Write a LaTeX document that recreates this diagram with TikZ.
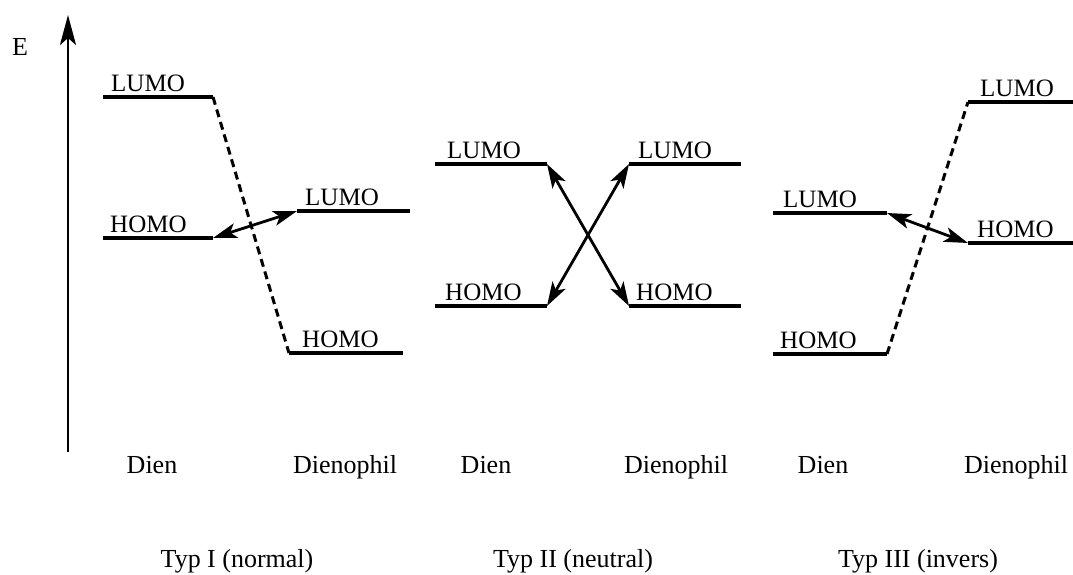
\documentclass[tikz,border=0pt]{standalone}
\usepackage{fontspec}
\setmainfont{Liberation Serif}
\usetikzlibrary{arrows.meta}
\begin{document}
\begin{tikzpicture}[x=1pt,y=-1pt,
  level/.style={line width=3.2pt},
  corr/.style={line width=3pt,dash pattern=on 8pt off 5pt},
  tip/.tip={Stealth[length=24pt,width=15pt,inset=6pt]},
  inter/.style={line width=2.8pt,tip-tip},
  lab/.style={anchor=base west,inner sep=0pt,font=\fontsize{25}{30}\selectfont},
  captext/.style={anchor=base,inner sep=0pt,font=\fontsize{26}{30}\selectfont}]
\useasboundingbox (0,0) rectangle (1073,574);
% energy axis
\coordinate (ax0) at (68,452);
\coordinate (ax1) at (68,15);
\draw[line width=2.9pt,-{Stealth[length=30pt,width=16pt,inset=7pt]}] (ax0) -- (ax1);
\node[captext] (E) at (20,55) {E};
% ---------- Typ I ----------
\coordinate (aL1) at (103,97);  \coordinate (aL2) at (213,97);
\coordinate (aH1) at (103,238); \coordinate (aH2) at (213,238);
\coordinate (bL1) at (297,211); \coordinate (bL2) at (410,211);
\coordinate (bH1) at (289,353); \coordinate (bH2) at (403,353);
\draw[level] (aL1) -- (aL2);
\draw[level] (aH1) -- (aH2);
\draw[level] (bL1) -- (bL2);
\draw[level] (bH1) -- (bH2);
\draw[corr] (aL2) -- (bH1);
\draw[inter] (aH2) -- (bL1);
\node[lab] (taL) at (111,91) {LUMO};
\node[lab] (taH) at (110,232) {HOMO};
\node[lab] (tbL) at (305,205) {LUMO};
\node[lab] (tbH) at (302,347) {HOMO};
% ---------- Typ II ----------
\coordinate (cL1) at (435,164); \coordinate (cL2) at (547,164);
\coordinate (cH1) at (435,306); \coordinate (cH2) at (547,306);
\coordinate (dL1) at (629,164); \coordinate (dL2) at (741,164);
\coordinate (dH1) at (629,306); \coordinate (dH2) at (741,306);
\draw[level] (cL1) -- (cL2);
\draw[level] (cH1) -- (cH2);
\draw[level] (dL1) -- (dL2);
\draw[level] (dH1) -- (dH2);
\draw[inter] (cL2) -- (dH1);
\draw[inter] (cH2) -- (dL1);
\node[lab] (tcL) at (447,158) {LUMO};
\node[lab] (tcH) at (445,300) {HOMO};
\node[lab] (tdL) at (638,158) {LUMO};
\node[lab] (tdH) at (636,300) {HOMO};
% ---------- Typ III ----------
\coordinate (eL1) at (773,213); \coordinate (eL2) at (887,213);
\coordinate (eH1) at (773,354); \coordinate (eH2) at (887,354);
\coordinate (fL1) at (968,102); \coordinate (fL2) at (1073,102);
\coordinate (fH1) at (968,243); \coordinate (fH2) at (1073,243);
\draw[level] (eL1) -- (eL2);
\draw[level] (eH1) -- (eH2);
\draw[level] (fL1) -- (fL2);
\draw[level] (fH1) -- (fH2);
\draw[corr] (eH2) -- (fL1);
\draw[inter] (eL2) -- (fH1);
\node[lab] (teL) at (783,207) {LUMO};
\node[lab] (teH) at (780,348) {HOMO};
\node[lab] (tfL) at (980,96) {LUMO};
\node[lab] (tfH) at (977,237) {HOMO};
% ---------- captions ----------
\node[captext] (d1) at (152,473) {Dien};
\node[captext] (p1) at (345,473) {Dienophil};
\node[captext] (d2) at (486,473) {Dien};
\node[captext] (p2) at (676,473) {Dienophil};
\node[captext] (d3) at (823,473) {Dien};
\node[captext] (p3) at (1016,473) {Dienophil};
\node[captext] (t1) at (237,567) {Typ I (normal)};
\node[captext] (t2) at (573,567) {Typ II (neutral)};
\node[captext] (t3) at (918,567) {Typ III (invers)};
\end{tikzpicture}
\end{document}
